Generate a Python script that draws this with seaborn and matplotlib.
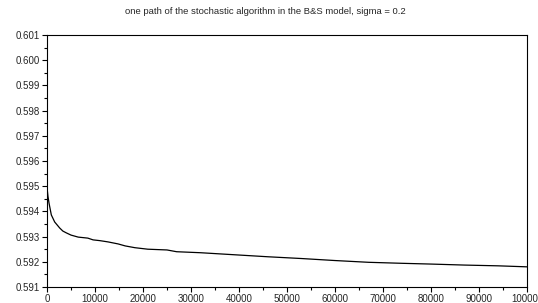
import numpy as np
import pandas as pd
import matplotlib
matplotlib.use("Agg")
import matplotlib.pyplot as plt
import seaborn as sns
from matplotlib.ticker import MultipleLocator

# valores (iteracion, valor estimado)
iteraciones = [0, 60, 200, 420, 900, 1600, 2650, 3300, 4000, 5000, 6500, 8500,
               9600, 11000, 12700, 14800, 16300, 18300, 21000, 25000, 27000,
               32000, 39000, 46000, 53000, 60000, 67000, 74000, 80000, 87000,
               94000, 100000]
valores = [0.5950, 0.59485, 0.5946, 0.59433, 0.59386, 0.59358, 0.59334,
           0.59322, 0.59315, 0.59306, 0.59298, 0.59294, 0.59287, 0.59284,
           0.59279, 0.59271, 0.59263, 0.59256, 0.59250, 0.59247, 0.59240,
           0.59236, 0.59228, 0.59220, 0.59213, 0.59205, 0.59198, 0.59194,
           0.59191, 0.59187, 0.59184, 0.59180]

titulo = "one path of the stochastic algorithm in the B&S model, sigma = 0.2"

sns.set_style("white")
plt.rcParams['font.family'] = ['Liberation Sans', 'DejaVu Sans']

df = pd.DataFrame({"n": iteraciones, "valor": valores})

fig = plt.figure(figsize=(5.38, 3.03), dpi=100)
ax = fig.add_axes([47 / 538, 16 / 303, 480 / 538, 252 / 303])

sns.lineplot(data=df, x="n", y="valor", ax=ax, color="black", linewidth=0.9)

ax.set_xlim(0, 100000)
ax.set_ylim(0.591, 0.601)
ax.xaxis.set_major_locator(MultipleLocator(10000))
ax.xaxis.set_minor_locator(MultipleLocator(5000))
ax.yaxis.set_major_locator(MultipleLocator(0.001))
ax.yaxis.set_minor_locator(MultipleLocator(0.0005))
ax.yaxis.set_major_formatter(matplotlib.ticker.FormatStrFormatter("%.3f"))
ax.xaxis.set_major_formatter(matplotlib.ticker.FormatStrFormatter("%d"))

ax.tick_params(which="both", direction="out", color="black", width=0.8,
               labelsize=7, pad=1.5, top=False, right=False, left=True, bottom=True)
ax.tick_params(which="major", length=3.6)
ax.tick_params(which="minor", length=2.2)

for s in ax.spines.values():
    s.set_color("black")
    s.set_linewidth(0.8)

ax.set_xlabel("")
ax.set_ylabel("")

fig.text(0.493, 1 - 12 / 303, titulo, ha="center", va="center", fontsize=6.8)

fig.savefig("out.png", dpi=100)
